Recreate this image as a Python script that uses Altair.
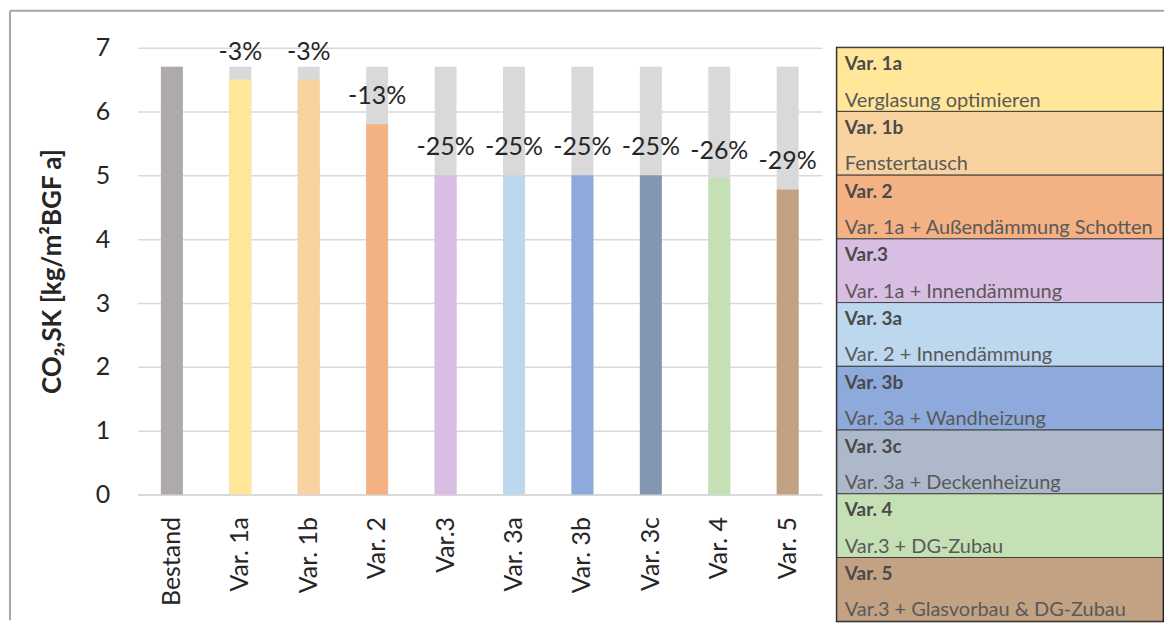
import altair as alt
import pandas as pd

# ---- data ----
categories = ["Bestand", "Var. 1a", "Var. 1b", "Var. 2", "Var.3",
              "Var. 3a", "Var. 3b", "Var. 3c", "Var. 4", "Var. 5"]
values = [6.7, 6.5, 6.5, 5.8, 5.0, 5.0, 5.0, 5.0, 4.95, 4.78]
pct_labels = ["", "-3%", "-3%", "-13%", "-25%", "-25%", "-25%", "-25%", "-26%", "-29%"]
bar_colors = ["#AEAAAA", "#FFE699", "#F8D3A0", "#F4B183", "#D9BEE4",
              "#BDD7EE", "#8EA9DB", "#8497B0", "#C5E0B4", "#C3A283"]

legend_titles = ["Var. 1a", "Var. 1b", "Var. 2", "Var.3", "Var. 3a",
                 "Var. 3b", "Var. 3c", "Var. 4", "Var. 5"]
legend_descs = ["Verglasung optimieren", "Fenstertausch",
                "Var. 1a + Außendämmung Schotten", "Var. 1a + Innendämmung",
                "Var. 2 + Innendämmung", "Var. 3a + Wandheizung",
                "Var. 3a + Deckenheizung", "Var.3 + DG-Zubau",
                "Var.3 + Glasvorbau & DG-Zubau"]
legend_colors = ["#FFE699", "#F8D3A0", "#F4B183", "#D9BEE4", "#BDD7EE",
                 "#8EA9DB", "#ADB9CA", "#C5E0B4", "#C3A283"]

FONT = "Lato"
baseline = values[0]

df = pd.DataFrame({
    "cat": categories,
    "value": values,
    "pct": pct_labels,
    "color": bar_colors,
    "full": [baseline] * len(categories),
})

PW, PH = 686, 448

x_enc = alt.X(
    "cat:N", sort=categories,
    scale=alt.Scale(paddingInner=0, paddingOuter=0),
    axis=alt.Axis(title=None, labelAngle=-90, labelFontSize=25, labelFont=FONT,
                  labelColor="#262626", labelPadding=22, ticks=False,
                  domainColor="#D9D9D9", domainWidth=2),
)
y_scale = alt.Scale(domain=[0, 7], nice=False)

bg = alt.Chart(df).mark_bar(size=22, color="#D9D9D9").encode(
    x=x_enc,
    y=alt.Y("full:Q", scale=y_scale,
            axis=alt.Axis(title="CO₂,SK [kg/m²BGF a]", values=list(range(8)),
                          format="d",
                          grid=True, gridColor="#D9D9D9", gridWidth=1.5,
                          domain=False, ticks=False, labelFontSize=25,
                          labelFont=FONT, labelColor="#262626", labelPadding=28,
                          titleFont=FONT, titleFontSize=26, titleFontWeight="bold",
                          titleColor="#262626", titlePadding=30)),
)
bars = alt.Chart(df).mark_bar(size=22).encode(
    x=x_enc,
    y=alt.Y("value:Q", scale=y_scale),
    color=alt.Color("color:N", scale=None),
)
txt = alt.Chart(df).mark_text(dy=-28, fontSize=25, font=FONT, color="#262626").encode(
    x=x_enc,
    y=alt.Y("value:Q", scale=y_scale),
    text="pct:N",
)

# chart frame (decorative outer border, top and left edges)
frame_df = pd.DataFrame({"k": [0]})
frame_v = alt.Chart(frame_df).mark_rule(color="#A6A6A6", strokeWidth=2).encode(
    x=alt.value(-128), y=alt.value(-37), y2=alt.value(574))
frame_h = alt.Chart(frame_df).mark_rule(color="#A6A6A6", strokeWidth=2).encode(
    y=alt.value(-37), x=alt.value(-128), x2=alt.value(1029))

left = alt.layer(bg, bars, txt, frame_v, frame_h).properties(width=PW, height=PH)

# ---- legend panel ----
ldf = pd.DataFrame({"title": legend_titles, "desc": legend_descs, "color": legend_colors})
LW, LH = 327, 575
band = alt.Scale(paddingInner=0, paddingOuter=0)

rects = alt.Chart(ldf).mark_rect(stroke="#404040", strokeWidth=1).encode(
    y=alt.Y("title:N", sort=legend_titles, axis=None, scale=band),
    x=alt.value(0), x2=alt.value(LW),
    color=alt.Color("color:N", scale=None),
)
titles = alt.Chart(ldf).mark_text(align="left", baseline="middle", font=FONT,
                                   fontSize=19, fontWeight="bold", color="#4A4A4A").encode(
    y=alt.Y("title:N", sort=legend_titles, axis=None, scale=band, bandPosition=0.26),
    x=alt.value(8),
    text="title:N",
)
descs = alt.Chart(ldf).mark_text(align="left", baseline="middle", font=FONT,
                                  fontSize=20, color="#595959").encode(
    y=alt.Y("title:N", sort=legend_titles, axis=None, scale=band, bandPosition=0.83),
    x=alt.value(8),
    text="desc:N",
)
legend = alt.layer(rects, titles, descs).properties(
    width=LW, height=LH,
    view=alt.ViewBackground(stroke="#000000", strokeWidth=2),
)

chart = alt.hconcat(left, legend, spacing=15, bounds="flush").properties(
    padding={"left": 0, "top": 0, "right": 0, "bottom": 0}
).configure_view(stroke="transparent")

chart.save("out.html", embed_options={"renderer": "svg", "actions": False})
